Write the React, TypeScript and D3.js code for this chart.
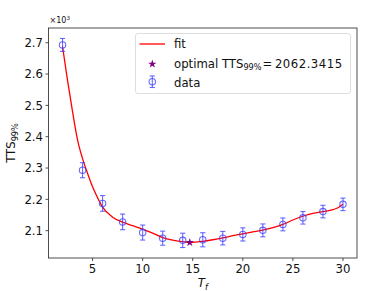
import { useEffect, useRef } from "react";
import * as d3 from "d3";

// measured points (Tf, TTS99%, error)
const tf = [2, 4, 6, 8, 10, 12, 14, 16, 18, 20, 22, 24, 26, 28, 30];
const tts = [2693, 2293, 2187, 2128, 2094, 2076, 2069, 2071, 2076, 2088, 2101, 2120, 2141, 2161, 2184];
const err = [20.6, 24, 25, 25, 24, 22.5, 22.9, 22.5, 21.5, 21, 20.5, 20.5, 20, 20, 20];

// fitted curve
const fitX = [2, 2.5, 3, 3.5, 4, 4.5, 5, 5.5, 6, 7, 8, 9, 10, 11, 12, 13, 14, 14.7, 16, 17, 18, 19, 20, 21, 22, 23, 24, 25, 26, 27, 28, 29, 29.5, 30];
const fitY = [2688, 2580, 2480, 2390, 2330, 2283, 2240, 2205, 2175, 2143, 2127, 2116, 2105, 2092, 2078, 2070, 2065, 2062.3, 2066, 2071, 2077, 2084, 2090, 2096, 2102, 2110, 2120, 2134, 2146, 2155, 2161, 2167, 2173, 2184];

const optX = 14.7;
const optY = 2062.3415;

const yTicks = [2100, 2200, 2300, 2400, 2500, 2600, 2700];
const xTicks = [5, 10, 15, 20, 25, 30];

const FONT = "DejaVu Sans, sans-serif";

export default function App() {
  const ref = useRef<SVGSVGElement>(null);

  useEffect(() => {
    const el = ref.current;
    if (!el) return;
    const W = 383, H = 291, M = { top: 28, right: 26, bottom: 33, left: 48.5 };
    const svg = d3.select(el).attr("width", W).attr("height", H);
    svg.selectAll("*").remove();

    // matplotlib-like 5% margins
    const xpad = (d3.max(tf)! - d3.min(tf)!) * 0.05;
    const lo = d3.min(tts.map((v, i) => v - err[i]))!;
    const hi = d3.max(tts.map((v, i) => v + err[i]))!;
    const ypad = (hi - lo) * 0.05;
    const x = d3.scaleLinear().domain([d3.min(tf)! - xpad, d3.max(tf)! + xpad]).range([M.left, W - M.right]);
    const y = d3.scaleLinear().domain([lo - ypad, hi + ypad]).range([H - M.bottom, M.top]);

    const blue = "#3a3aff";
    const purple = "#800080";

    // fit line
    const line = d3.line<number>().x((_d, i) => x(fitX[i])).y((d) => y(d)).curve(d3.curveMonotoneX);
    svg.append("path").datum(fitY).attr("d", line as any).attr("fill", "none").attr("stroke", "red").attr("stroke-width", 1.3);

    // error bars
    const g = svg.append("g").attr("stroke", blue).attr("stroke-opacity", 0.75).attr("fill", "none").attr("stroke-width", 1.1);
    tf.forEach((t, i) => {
      const cx = x(t);
      g.append("line").attr("x1", cx).attr("x2", cx).attr("y1", y(tts[i] - err[i])).attr("y2", y(tts[i] + err[i]));
      [tts[i] - err[i], tts[i] + err[i]].forEach((v) => {
        g.append("line").attr("x1", cx - 2.6).attr("x2", cx + 2.6).attr("y1", y(v)).attr("y2", y(v));
      });
      g.append("circle").attr("cx", cx).attr("cy", y(tts[i])).attr("r", 3.2);
    });

    // optimal star
    const star = d3.symbol().type(d3.symbolStar).size(22);
    svg.append("path").attr("d", star()!).attr("transform", `translate(${x(optX)},${y(optY)})`).attr("fill", purple);

    // frame
    svg.append("rect").attr("x", M.left).attr("y", M.top).attr("width", W - M.right - M.left).attr("height", H - M.bottom - M.top)
      .attr("fill", "none").attr("stroke", "#222").attr("stroke-width", 0.8);

    // x axis
    xTicks.forEach((t) => {
      svg.append("line").attr("x1", x(t)).attr("x2", x(t)).attr("y1", H - M.bottom).attr("y2", H - M.bottom + 3).attr("stroke", "#222").attr("stroke-width", 0.8);
      svg.append("text").attr("x", x(t)).attr("y", H - M.bottom + 15).attr("text-anchor", "middle").attr("font-size", 11.7).attr("font-family", FONT).attr("fill", "#111").text(t);
    });
    // y axis
    yTicks.forEach((t) => {
      svg.append("line").attr("x1", M.left - 3).attr("x2", M.left).attr("y1", y(t)).attr("y2", y(t)).attr("stroke", "#222").attr("stroke-width", 0.8);
      svg.append("text").attr("x", M.left - 5.5).attr("y", y(t) + 4.2).attr("text-anchor", "end").attr("font-size", 11.7).attr("font-family", FONT).attr("fill", "#111").text((t / 1000).toFixed(1));
    });

    // offset text ×10³
    const off = svg.append("text").attr("x", M.left + 1).attr("y", M.top - 5).attr("font-size", 8).attr("font-family", FONT).attr("fill", "#111");
    off.append("tspan").text("×10");
    off.append("tspan").attr("dy", -3.5).attr("font-size", 5.6).text("3");

    // axis labels
    const xl = svg.append("text").attr("x", (M.left + W - M.right) / 2).attr("y", H - 4).attr("text-anchor", "middle").attr("font-size", 11.7).attr("font-family", FONT).attr("font-style", "italic").attr("fill", "#111");
    xl.append("tspan").text("T");
    xl.append("tspan").attr("dy", 2.5).attr("font-size", 8.2).text("f");

    const yl = svg.append("text").attr("transform", `translate(15,${(M.top + H - M.bottom) / 2}) rotate(-90)`).attr("text-anchor", "middle").attr("font-size", 11.7).attr("font-family", FONT).attr("fill", "#111");
    yl.append("tspan").text("TTS");
    yl.append("tspan").attr("dy", 2.5).attr("font-size", 8.2).text("99%");

    // legend
    const lg = svg.append("g");
    lg.append("rect").attr("x", 135.5).attr("y", 33.5).attr("width", 215).attr("height", 60).attr("rx", 2.5)
      .attr("fill", "white").attr("fill-opacity", 0.8).attr("stroke", "#d6d6d6").attr("stroke-width", 0.8);
    lg.append("line").attr("x1", 139.5).attr("x2", 165).attr("y1", 44).attr("y2", 44).attr("stroke", "red").attr("stroke-width", 1.3);
    lg.append("text").attr("x", 174).attr("y", 48).attr("font-size", 11.7).attr("font-family", FONT).attr("fill", "#111").text("fit");
    lg.append("path").attr("d", star()!).attr("transform", "translate(152.3,64)").attr("fill", purple);
    const ot = lg.append("text").attr("x", 174).attr("y", 67.5).attr("font-size", 11.7).attr("font-family", FONT).attr("fill", "#111");
    ot.append("tspan").text("optimal TTS");
    ot.append("tspan").attr("dy", 2.5).attr("font-size", 8.2).text("99%");
    ot.append("tspan").attr("dy", -2.5).attr("dx", 1).text("=");
    ot.append("tspan").attr("dx", 2.5).attr("letter-spacing", 0.5).text(optY.toFixed(4));
    const lgE = lg.append("g").attr("stroke", blue).attr("stroke-opacity", 0.75).attr("fill", "none").attr("stroke-width", 1.1);
    lgE.append("line").attr("x1", 152.3).attr("x2", 152.3).attr("y1", 76).attr("y2", 87.5);
    lgE.append("line").attr("x1", 149.7).attr("x2", 154.9).attr("y1", 76).attr("y2", 76);
    lgE.append("line").attr("x1", 149.7).attr("x2", 154.9).attr("y1", 87.5).attr("y2", 87.5);
    lgE.append("circle").attr("cx", 152.3).attr("cy", 81.7).attr("r", 3.2);
    lg.append("text").attr("x", 174).attr("y", 86.5).attr("font-size", 11.7).attr("font-family", FONT).attr("fill", "#111").text("data");
  }, []);

  return <svg ref={ref} style={{ position: "absolute", left: 0, top: 0 }} role="img" aria-label="TTS99% versus Tf" />;
}
